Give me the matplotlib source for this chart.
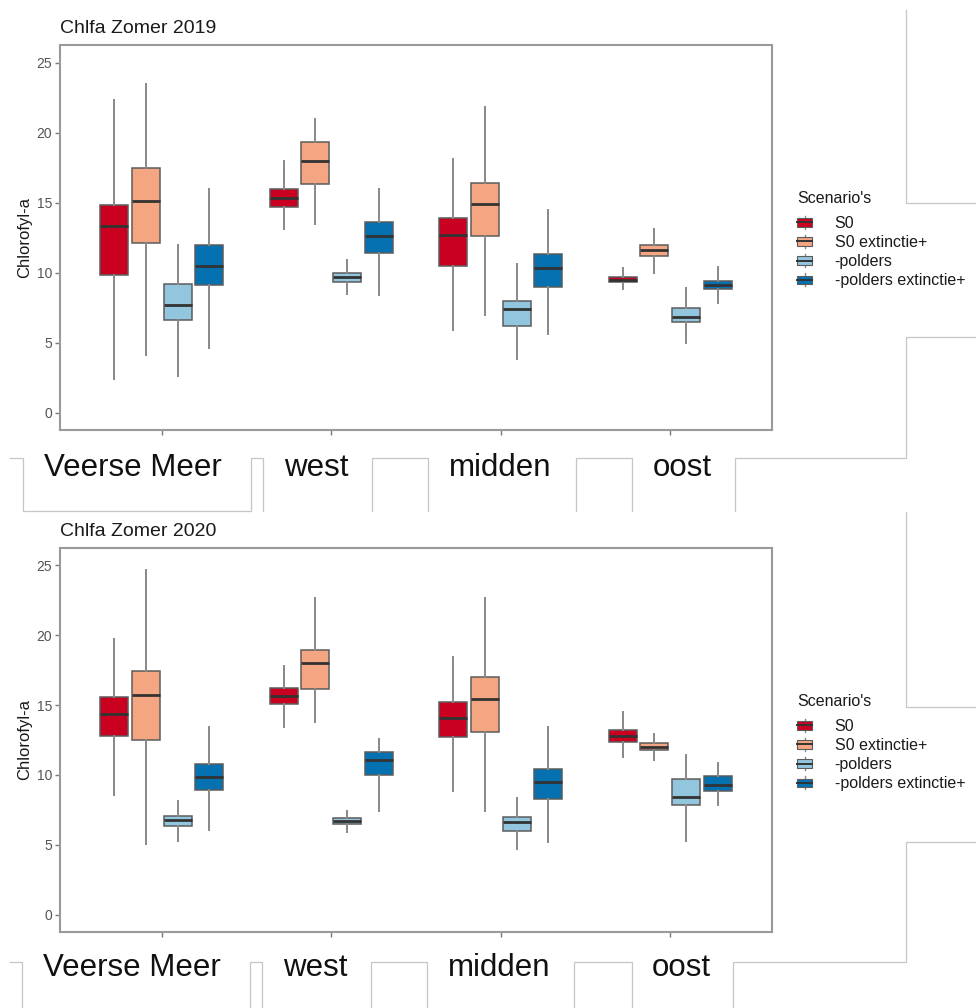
import matplotlib
matplotlib.use("Agg")
import matplotlib.pyplot as plt
from matplotlib.lines import Line2D
from matplotlib.patches import Rectangle, Patch
from matplotlib.legend_handler import HandlerBase

plt.rcParams['font.family'] = ['Liberation Sans', 'DejaVu Sans']

# ---------------- data ----------------
regions = ['Veerse Meer', 'west', 'midden', 'oost']
scenarios = ['S0', 'S0 extinctie+', '-polders', '-polders extinctie+']
colors = ['#CA0020', '#F4A582', '#92C5DE', '#0571B0']
titles = ['Chlfa Zomer 2019', 'Chlfa Zomer 2020']

# per scenario: list over regions of (whislo, q1, med, q3, whishi)
# ---- 2019 ----
s0_2019 = [(2.4, 9.8, 13.3, 14.8, 22.3), (13.1, 14.7, 15.3, 16.0, 18.0),
           (5.9, 10.5, 12.7, 13.9, 18.1), (8.8, 9.3, 9.5, 9.7, 10.3)]
s0ext_2019 = [(4.1, 12.1, 15.1, 17.5, 23.5), (13.5, 16.3, 18.0, 19.3, 21.0),
              (7.0, 12.6, 14.9, 16.4, 21.8), (10.0, 11.2, 11.6, 12.0, 13.1)]
pol_2019 = [(2.6, 6.6, 7.7, 9.2, 12.0), (8.5, 9.3, 9.7, 9.95, 10.9),
            (3.8, 6.2, 7.4, 8.0, 10.6), (5.0, 6.5, 6.8, 7.5, 8.9)]
polext_2019 = [(4.6, 9.1, 10.45, 12.0, 16.0), (8.4, 11.4, 12.6, 13.6, 16.0),
               (5.6, 8.95, 10.3, 11.3, 14.5), (7.8, 8.8, 9.1, 9.4, 10.4)]
# ---- 2020 ----
s0_2020 = [(8.6, 12.8, 14.35, 15.55, 19.7), (13.45, 15.05, 15.65, 16.25, 17.8),
           (8.85, 12.7, 14.05, 15.25, 18.45), (11.3, 12.35, 12.8, 13.25, 14.5)]
s0ext_2020 = [(5.05, 12.5, 15.7, 17.45, 24.65), (13.8, 16.15, 18.0, 18.9, 22.65),
              (7.4, 13.1, 15.45, 17.0, 22.65), (11.05, 11.75, 12.0, 12.25, 12.95)]
pol_2020 = [(5.25, 6.35, 6.8, 7.1, 8.15), (5.9, 6.5, 6.7, 6.9, 7.4),
            (4.7, 6.0, 6.65, 7.0, 8.35), (5.25, 7.85, 8.4, 9.7, 11.4)]
polext_2020 = [(6.05, 8.9, 9.85, 10.8, 13.45), (7.45, 10.0, 11.1, 11.65, 12.55),
               (5.2, 8.3, 9.5, 10.4, 13.4), (7.85, 8.85, 9.3, 9.9, 10.85)]

data_years = [[s0_2019, s0ext_2019, pol_2019, polext_2019],
              [s0_2020, s0ext_2020, pol_2020, polext_2020]]

yticks = [0, 5, 10, 15, 20, 25]

# ---------------- figure ----------------
W, H = 976, 1008
fig = plt.figure(figsize=(W / 100, H / 100), dpi=100)

def px_axes(l, t, r, b):
    return [l / W, 1 - b / H, (r - l) / W, (b - t) / H]

axes_px = [(60, 45, 772, 430), (60, 547.7, 772, 932.3)]
offsets = [-0.28125, -0.09375, 0.09375, 0.28125]
bw = 0.165
frame_col = '#9a9a9a'

for k, (box, year_data) in enumerate(zip(axes_px, data_years)):
    ax = fig.add_axes(px_axes(*box))
    for s, (series, col) in enumerate(zip(year_data, colors)):
        stats = []
        pos = []
        for i, (lo, q1, med, q3, hi) in enumerate(series):
            stats.append(dict(whislo=lo, q1=q1, med=med, q3=q3, whishi=hi, fliers=[]))
            pos.append(i + 1 + offsets[s])
        ax.bxp(stats, positions=pos, widths=bw, showcaps=False, showfliers=False,
               patch_artist=True,
               boxprops=dict(facecolor=col, edgecolor='#5c5c5c', linewidth=1.1),
               medianprops=dict(color='#333333', linewidth=2.0),
               whiskerprops=dict(color='#888888', linewidth=1.4),
               manage_ticks=False)
    ax.set_xlim(0.4, 4.6)
    ax.set_ylim(-1.25, 26.25)
    ax.set_xticks(range(1, len(regions) + 1))
    ax.set_xticklabels([''] * len(regions))
    ax.set_yticks(yticks)
    ax.set_yticklabels([str(v) for v in yticks])
    ax.tick_params(axis='both', colors='#7a7a7a', length=3.5, width=1.0,
                   labelsize=10, labelcolor='#555555', pad=2)
    for sp in ax.spines.values():
        sp.set_color(frame_col)
        sp.set_linewidth(1.5)
    ax.set_title(titles[k], loc='left', fontsize=14, pad=8.5, color='#1a1a1a')
    ax.set_ylabel('Chlorofyl-a', fontsize=12, color='#1a1a1a')
    ax.yaxis.set_label_coords(-0.039, 0.5)


# ---------------- legends ----------------
class BoxHandler(HandlerBase):
    def create_artists(self, legend, orig_handle, xdescent, ydescent,
                       width, height, fontsize, trans):
        fc = orig_handle.get_facecolor()
        x0, y0 = -xdescent, -ydescent
        cx = x0 + width / 2
        wl = Line2D([cx, cx], [y0, y0 + height], color='#888888', lw=1.0,
                    transform=trans)
        rect = Rectangle((x0, y0 + height * 0.18), width, height * 0.64,
                         facecolor=fc, edgecolor='#5c5c5c', lw=0.8, transform=trans)
        med = Line2D([x0, x0 + width], [y0 + height / 2] * 2, color='#333333',
                     lw=1.4, transform=trans)
        return [wl, rect, med]

handles = [Patch(facecolor=c, label=l) for c, l in zip(colors, scenarios)]
for ytop in (191, 694):
    leg = fig.legend(handles=handles, title="Scenario's", loc='upper left',
                     bbox_to_anchor=(797 / W, 1 - ytop / H), frameon=False,
                     fontsize=11.5, title_fontsize=11.5, borderpad=0,
                     borderaxespad=0, handlelength=0.95, handleheight=0.9,
                     handletextpad=1.4, labelspacing=0.25, alignment='left',
                     handler_map={Patch: BoxHandler()})
    leg._legend_box.sep = 7
    for t in leg.get_texts():
        t.set_color('#1a1a1a')
    leg.get_title().set_color('#1a1a1a')

# ---------------- overlay (slide decorations + big labels) ----------------
ov = fig.add_axes([0, 0, 1, 1], zorder=-1)
ov.set_xlim(0, W)
ov.set_ylim(H, 0)
ov.axis('off')
ov.patch.set_alpha(0)

segs = [
    [(10, 458), (23, 458), (23, 511), (251, 511), (251, 458), (263, 458), (263, 511)],
    [(372, 511), (372, 458), (428, 458), (428, 511)],
    [(576, 511), (576, 458), (632, 458), (632, 511)],
    [(735, 511), (735, 458), (905.5, 458), (905.5, 337), (976, 337)],
    [(905.5, 10), (905.5, 203), (976, 203)],
    [(905.5, 512), (905.5, 707), (976, 707)],
    [(976, 842), (905.5, 842), (905.5, 962), (733, 962), (733, 1008)],
    [(574, 1008), (574, 962), (632, 962), (632, 1008)],
    [(371, 1008), (371, 962), (427, 962), (427, 1008)],
    [(250, 1008), (250, 962), (262, 962), (262, 1008)],
    [(10, 962), (22, 962), (22, 1008)],
]
for seg in segs:
    xs, ys = zip(*seg)
    ov.plot(xs, ys, color='#c6c6c6', lw=0.9, solid_joinstyle='miter')

label_x = [[132.5, 316, 500, 682], [131.5, 315, 499, 681]]
label_base = [476, 976]
for k in range(2):
    for name, x in zip(regions, label_x[k]):
        ov.text(x, label_base[k], name, fontsize=22.5, ha='center',
                va='baseline', color='#111111')

fig.savefig('out.png', dpi=100)
